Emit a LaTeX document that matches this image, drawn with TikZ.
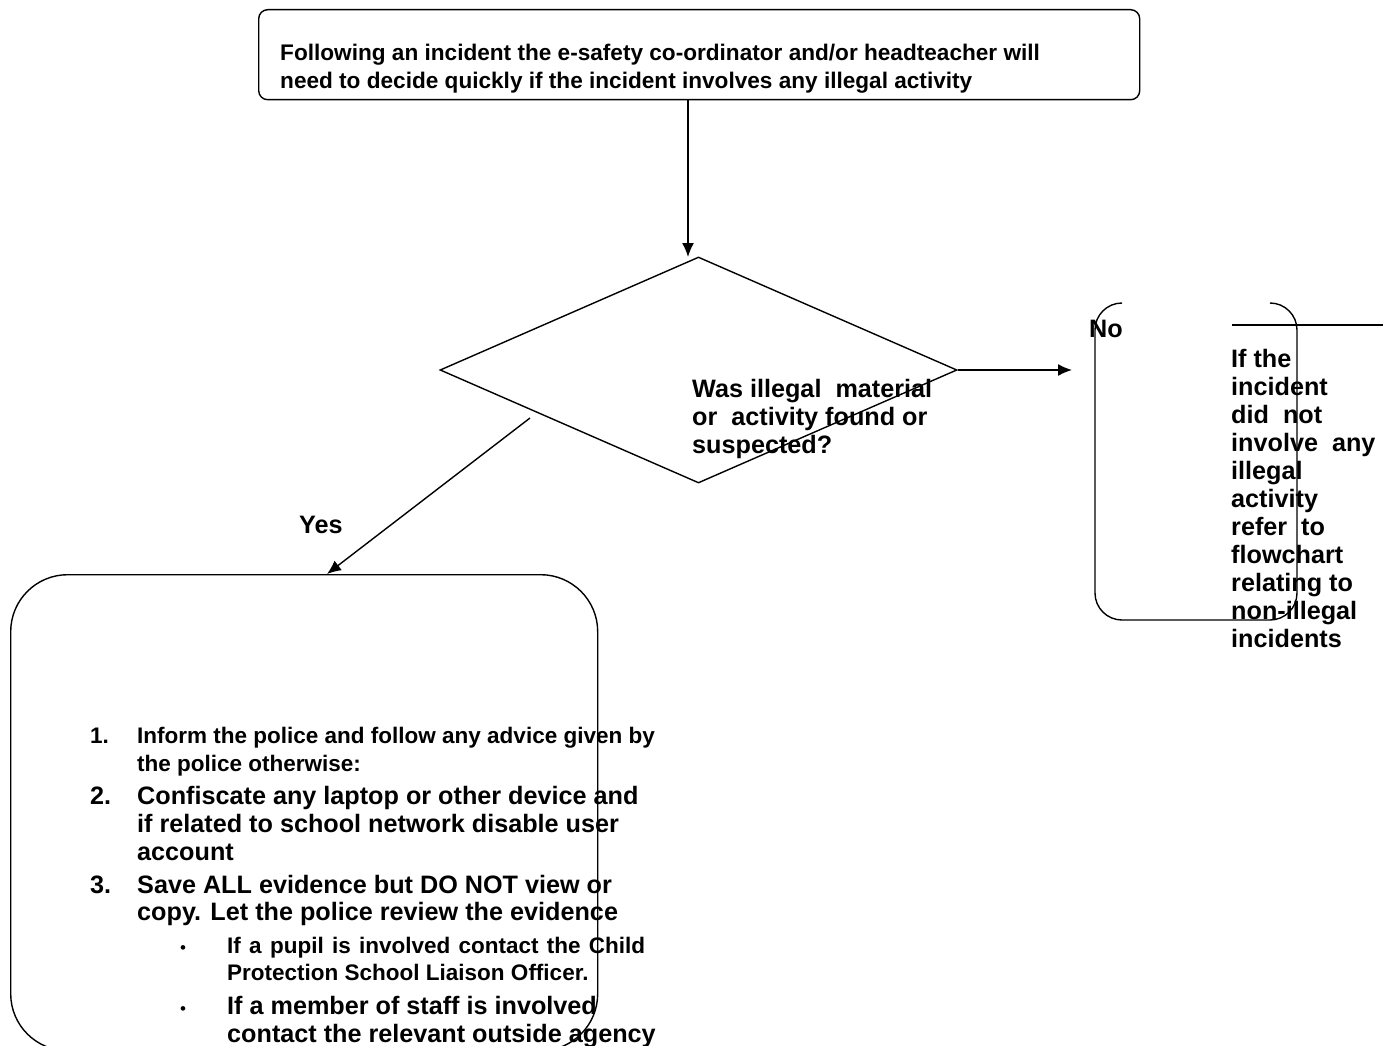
\documentclass[tikz,border=0pt]{standalone}
\usepackage{fontspec}
\setmainfont{Liberation Sans}
\usetikzlibrary{arrows.meta,shapes.geometric}
\tikzset{
  ln/.style={line width=1.4pt},
  arr/.style={ln,-{Latex[length=14pt,width=12pt]}},
  txtA/.style={anchor=base west,inner sep=0,align=left,font=\bfseries\fontsize{25.2}{28}\selectfont},
  txtB/.style={anchor=base west,inner sep=0,align=left,font=\bfseries\fontsize{22.5}{28}\selectfont},
  txtC/.style={anchor=base west,inner sep=0,align=left,font=\bfseries\fontsize{22.5}{27}\selectfont},
  boxr/.style={ln,draw,inner sep=0,anchor=north west},
}
\begin{document}
\begin{tikzpicture}[x=1pt,y=-1pt]
\useasboundingbox (0,0) rectangle (1389,1046);
\clip (0,0) rectangle (1389,1046);
\fill[white] (0,0) rectangle (1389,1046);

% top box (base anchor = last line)
\node[boxr,rounded corners=9pt,minimum width=881pt,minimum height=90pt] (top) at (258,9) {};
\node[txtB,font=\bfseries\fontsize{22.6}{27.5}\selectfont] (toptext) at (280,88.5)
  {Following an incident the e-safety co-ordinator and/or headteacher will\\need to decide quickly if the incident involves any illegal activity};

% decision
\node[ln,draw,diamond,inner sep=0,minimum width=517pt,minimum height=226pt] (dec) at (698.5,370) {};
\node[txtA] (dectext) at (692,453) {Was illegal\ \ material\\or\ \ activity found or\\suspected?};

% arrow top -> decision
\coordinate (a1s) at (688,99);
\coordinate (a1e) at (688,257);
\draw[arr] (a1s) -- (a1e);

% No branch
\coordinate (noend) at (1072,370);
\draw[arr] (dec.east) -- (noend);
\node[txtA] (nolab) at (1089,337) {No};
\draw[ln,rounded corners=27pt] (1122,303) -- (1095,303) -- (1095,620) -- (1297,620) -- (1297,303) -- (1270,303);
\coordinate (hl1) at (1232,325);
\coordinate (hl2) at (1383,325);
\draw[line width=2pt] (hl1) -- (hl2);
\node[txtA] (notext) at (1231,647) {If the\\incident\\did\ \ not\\involve\ \ any\\illegal\\activity\\refer\ \ to\\flowchart\\relating to\\non-illegal\\incidents};

% Yes branch
\node[boxr,rounded corners=57pt,minimum width=587pt,minimum height=476pt] (act) at (10,574) {};
\coordinate (ys) at (530,418);
\coordinate (ye) at (327,574);
\draw[arr] (ys) -- (ye);
\node[txtA] (yeslab) at (299,533) {Yes};

% action list
\node[txtB] (n1) at (90,743) {1.};
\node[txtB] (t1) at (137,771) {Inform the police and follow any advice given by\\the police otherwise:};
\node[txtA] (n2) at (90,804) {2.};
\node[txtA] (t2) at (137,860) {Confiscate any laptop or other device and\\if related to school network disable user\\account};
\node[txtA] (n3) at (90,893) {3.};
\node[txtA,font=\bfseries\fontsize{25.2}{27}\selectfont] (t3) at (137,920) {Save ALL evidence but DO NOT view or\\copy. Let the police review the evidence};
\node[txtC,font=\fontsize{17}{20}\selectfont] (b1) at (180,953) {•};
\node[txtC] (tb1) at (227,980) {\makebox[418pt][s]{If a pupil is involved contact the Child}\\Protection School Liaison Officer.};
\node[txtC,font=\fontsize{17}{20}\selectfont] (b2) at (180,1014) {•};
\node[txtA] (tb2) at (227,1042) {If a member of staff is involved\\contact the relevant outside agency};
\end{tikzpicture}
\end{document}
